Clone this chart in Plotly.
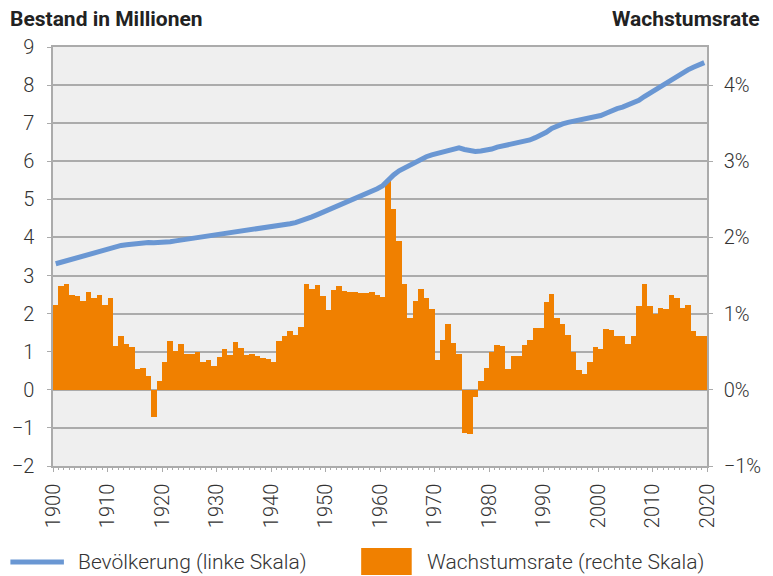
import plotly.graph_objects as go

years = list(range(1900, 2020))

population = [
    3.31, 3.35, 3.39, 3.44, 3.48, 3.52, 3.56, 3.61, 3.65, 3.69,
    3.73, 3.76, 3.79, 3.81, 3.83, 3.85, 3.86, 3.87, 3.86, 3.86,
    3.87, 3.89, 3.91, 3.93, 3.95, 3.97, 3.99, 4.01, 4.03, 4.05,
    4.07, 4.09, 4.11, 4.13, 4.16, 4.18, 4.20, 4.22, 4.24, 4.26,
    4.27, 4.30, 4.33, 4.36, 4.39, 4.43, 4.48, 4.54, 4.60, 4.66,
    4.71, 4.77, 4.84, 4.90, 4.96, 5.02, 5.09, 5.15, 5.22, 5.28,
    5.36, 5.51, 5.64, 5.75, 5.83, 5.89, 5.96, 6.04, 6.12, 6.17,
    6.21, 6.24, 6.28, 6.33, 6.35, 6.31, 6.27, 6.26, 6.27, 6.29,
    6.32, 6.37, 6.40, 6.42, 6.45, 6.48, 6.52, 6.56, 6.62, 6.68,
    6.76, 6.86, 6.93, 6.98, 7.02, 7.05, 7.07, 7.09, 7.12, 7.15,
    7.20, 7.26, 7.33, 7.38, 7.42, 7.47, 7.52, 7.60, 7.70, 7.79,
    7.88, 7.97, 8.05, 8.14, 8.24, 8.33, 8.40, 8.47, 8.53, 8.59,
]

growth = [
    1.11, 1.36, 1.39, 1.24, 1.23, 1.17, 1.28, 1.21, 1.25, 1.11,
    1.21, 0.57, 0.71, 0.60, 0.56, 0.27, 0.29, 0.18, -0.36, 0.12,
    0.36, 0.64, 0.51, 0.60, 0.47, 0.47, 0.50, 0.37, 0.39, 0.31,
    0.43, 0.53, 0.46, 0.63, 0.55, 0.46, 0.47, 0.44, 0.42, 0.40,
    0.37, 0.64, 0.70, 0.77, 0.72, 0.82, 1.39, 1.32, 1.37, 1.23,
    1.05, 1.31, 1.36, 1.30, 1.29, 1.28, 1.27, 1.27, 1.29, 1.25,
    1.22, 2.75, 2.37, 1.95, 1.39, 0.94, 1.16, 1.32, 1.21, 1.06,
    0.39, 0.65, 0.87, 0.61, 0.47, -0.57, -0.58, -0.10, 0.11, 0.29,
    0.49, 0.59, 0.57, 0.27, 0.44, 0.44, 0.59, 0.66, 0.81, 0.81,
    1.15, 1.26, 0.94, 0.87, 0.72, 0.49, 0.26, 0.21, 0.36, 0.56,
    0.54, 0.80, 0.79, 0.70, 0.70, 0.60, 0.70, 1.10, 1.39, 1.10,
    1.00, 1.07, 1.06, 1.24, 1.20, 1.08, 1.11, 0.77, 0.71, 0.71,
]

x_ticks = list(range(1900, 2021, 10))
left_ticks = list(range(-2, 10))
right_ticks = list(range(-1, 5))
right_labels = ["\u22121%", "0%", "1%", "2%", "3%", "4%"]

title_left = "Bestand in Millionen"
title_right = "Wachstumsrate"
name_line = "Bevölkerung (linke Skala)"
name_bar = "Wachstumsrate (rechte Skala)"

BLUE = "#6a97d3"
ORANGE = "#f08000"
GRID = "#ababab"
TXT = "#333333"
FONT = "Roboto"

W, H = 773, 576
L, R, T, B = 51, 62, 47, 110
PW, PH = W - L - R, H - T - B

xc = [y + 0.5 for y in years]

fig = go.Figure()
fig.add_trace(go.Bar(x=xc, y=growth, width=1, marker=dict(color=ORANGE, line=dict(width=0)),
                     name=name_bar, yaxis="y", showlegend=False))
fig.add_trace(go.Scatter(x=xc, y=population, mode="lines", line=dict(color=BLUE, width=5),
                         name=name_line, yaxis="y2", showlegend=False))

tf = dict(family=FONT, size=20, color=TXT, weight=300)

fig.update_layout(
    width=W, height=H,
    margin=dict(l=L, r=R, t=T, b=B),
    paper_bgcolor="white", plot_bgcolor="#efefef",
    bargap=0,
    font=tf,
    xaxis=dict(range=[1900, 2020], tickvals=x_ticks, tickangle=-90,
               showgrid=False, zeroline=False, showline=True, linecolor=GRID, linewidth=1.5,
               mirror=True, ticks="outside", ticklen=4, tickcolor=GRID,
               minor=dict(ticks="outside", ticklen=2, tickcolor=GRID, dtick=1, showgrid=False),
               tickfont=tf, ticklabelstandoff=4),
    yaxis=dict(side="right", range=[-1, 4.5], tickvals=right_ticks, ticktext=right_labels,
               showgrid=False, zeroline=False, showline=True, linecolor=GRID, linewidth=1.5,
               ticks="outside", ticklen=4, tickcolor=GRID,
               tickfont=tf, ticklabelstandoff=7),
    yaxis2=dict(side="left", overlaying="y", range=[-2, 9], tickvals=left_ticks,
                showgrid=True, gridcolor=GRID, gridwidth=1.5, zeroline=False,
                showline=True, linecolor=GRID, linewidth=1.5,
                ticks="outside", ticklen=4, tickcolor=GRID,
                tickfont=tf, ticklabelstandoff=9),
    showlegend=False,
)

def px(xp):
    return (xp - L) / PW

def py(yp):
    return (H - B - yp) / PH

# axis titles
fig.add_annotation(text=title_left, xref="paper", yref="paper", x=px(6), y=py(19),
                   xanchor="left", yanchor="middle", showarrow=False,
                   font=dict(family=FONT, size=21, color="#222222", weight=700))
fig.add_annotation(text=title_right, xref="paper", yref="paper", x=px(767), y=py(19),
                   xanchor="right", yanchor="middle", showarrow=False,
                   font=dict(family=FONT, size=21, color="#222222", weight=700))

# manual legend
fig.add_shape(type="line", xref="paper", yref="paper", x0=px(8), x1=px(62), y0=py(562), y1=py(562),
              line=dict(color=BLUE, width=5))
fig.add_annotation(text=name_line, xref="paper", yref="paper", x=px(74), y=py(562),
                   xanchor="left", yanchor="middle", showarrow=False,
                   font=dict(family=FONT, size=21, color=TXT, weight=300))
fig.add_shape(type="rect", xref="paper", yref="paper", x0=px(362), x1=px(413), y0=py(575), y1=py(548),
              line=dict(width=0), fillcolor=ORANGE)
fig.add_annotation(text=name_bar, xref="paper", yref="paper", x=px(426), y=py(562),
                   xanchor="left", yanchor="middle", showarrow=False,
                   font=dict(family=FONT, size=21, color=TXT, weight=300))

fig.write_html("out.html", config={"displayModeBar": False},
               post_script="document.body.style.margin='0px';")
